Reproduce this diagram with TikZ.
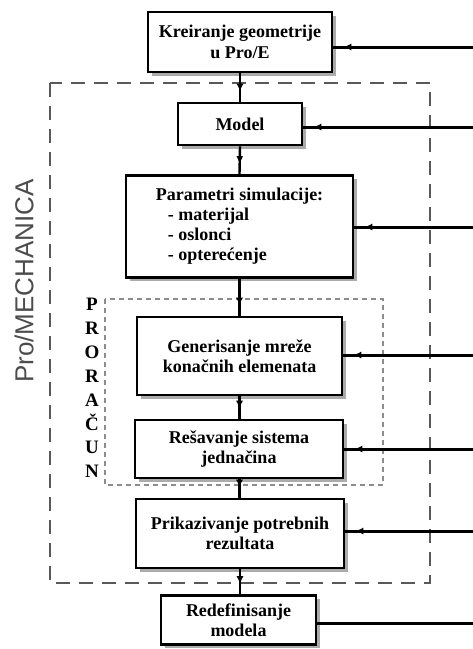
\documentclass[tikz,border=0pt]{standalone}
\usepackage{fontspec}
\setmainfont{Liberation Serif}
\newfontfamily\sanslib{Liberation Sans}
\usetikzlibrary{shadows,arrows.meta,decorations.markings}
\begin{document}
\begin{tikzpicture}[x=1pt,y=-1pt,
  box/.style={draw=black, line width=2.6pt, fill=white, align=center, inner sep=0pt,
    font=\bfseries\fontsize{18}{20.5}\selectfont,
    drop shadow={shadow xshift=3.5pt, shadow yshift=-3.5pt, fill=black!55, opacity=0.6}},
  flow/.style={line width=2.4pt, postaction={decorate},
    decoration={markings, mark=at position -10pt with {\arrow{Latex[length=8pt,width=7pt]}}}},
  fb/.style={line width=3pt, postaction={decorate},
    decoration={markings, mark=at position -10pt with {\arrow{Latex[length=8pt,width=7pt]}}}},
  outerdash/.style={draw=black!65, line width=1.6pt, dash pattern=on 14pt off 9pt},
  innerdash/.style={draw=black!45, line width=1.6pt, dash pattern=on 5pt off 4pt}
]
\useasboundingbox (0,0) rectangle (473,649);
\fill[white] (0,0) rectangle (473,649);

% dashed frames
\draw[outerdash] (50,83) rectangle (430,583);
\draw[innerdash] (105,299) rectangle (383,485);

% boxes
\node[box, minimum width=184pt, minimum height=60pt] (b1) at (240,42) {Kreiranje geometrije\\u Pro/E};
\node[box, minimum width=124pt, minimum height=42pt] (b2) at (240,124) {Model};
\node[box, minimum width=227pt, minimum height=102pt] (b3) at (239.5,226.5)
  {\fontsize{18}{20}\selectfont\begin{tabular}{@{}l@{}}Parametri simulacije:\\\hspace{12pt}- materijal\\\hspace{12pt}- oslonci\\\hspace{12pt}- opterećenje\end{tabular}};
\node[box, minimum width=205pt, minimum height=78pt] (b4) at (239.5,356) {Generisanje mreže\\konačnih elemenata};
\node[box, minimum width=208pt, minimum height=58pt] (b5) at (239,449) {Rešavanje sistema\\jednačina};
\node[box, minimum width=208pt, minimum height=69pt] (b6) at (240,533.5) {Prikazivanje potrebnih\\rezultata};
\node[box, minimum width=155pt, minimum height=49pt] (b7) at (238.5,620) {Redefinisanje\\modela};

% labels
\node[font=\sanslib\fontsize{26}{26}\selectfont, text=black!70, rotate=90] (pm) at (24,281) {Pro/MECHANICA};
\node[font=\bfseries\fontsize{19}{23.9}\selectfont, align=center, inner sep=0pt] (pr) at (92,388) {P\\R\\O\\R\\A\\Č\\U\\N};

% vertical flow
\draw[flow] (b1.south) -- (b2.north);
\draw[flow] (b2.south) -- (b3.north);
\draw[flow] (b3.south -| b4.north) -- (b4.north);
\draw[flow] (b4.south) -- (b5.north -| b4.south);
\draw[flow] (b5.south -| b4.south) -- (b6.north -| b4.south);
\draw[flow] (b6.south) -- (b7.north -| b6.south);

% feedback lines
\coordinate (r1) at (473,47);
\coordinate (r2) at (473,127);
\coordinate (r3) at (473,227);
\coordinate (r4) at (473,355);
\coordinate (r5) at (473,449);
\coordinate (r6) at (473,531);
\coordinate (r7) at (473,623);
\draw[fb] (r1) -- (b1.east |- r1);
\draw[fb] (r2) -- (b2.east |- r2);
\draw[fb] (r3) -- (b3.east |- r3);
\draw[fb] (r4) -- (b4.east |- r4);
\draw[fb] (r5) -- (b5.east |- r5);
\draw[fb] (r6) -- (b6.east |- r6);
\draw[line width=3pt] (r7) -- (b7.east |- r7);
\end{tikzpicture}
\end{document}
